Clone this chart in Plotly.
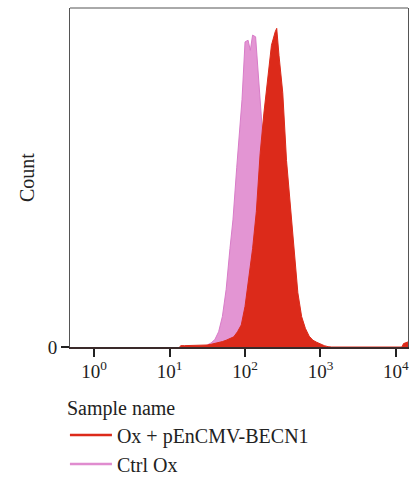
import plotly.graph_objects as go

# Fluorescence bins (log10 of intensity)
red_log = [1.13, 1.15, 1.20, 1.25, 1.30, 1.35, 1.40, 1.45, 1.50, 1.55, 1.60, 1.65, 1.70, 1.75,
           1.80, 1.85, 1.90, 1.95, 2.00, 2.05, 2.10, 2.15, 2.20, 2.25, 2.30, 2.35, 2.40, 2.42,
           2.45, 2.50, 2.55, 2.60, 2.65, 2.70, 2.75, 2.80, 2.85, 2.90, 2.95, 3.00, 3.05, 3.10,
           3.15, 4.08, 4.10, 4.16]
red_count = [0.0, 0.4, 0.4, 0.4, 0.4, 0.4, 0.5, 0.5, 0.6, 0.8, 1.0, 1.3, 1.6, 2.0,
             2.4, 3.0, 4.5, 6.5, 12.0, 20.0, 29.0, 40.0, 57.0, 69.0, 79.0, 89.0, 93.0, 94.0,
             86.0, 75.0, 55.0, 42.0, 28.0, 16.0, 9.0, 5.5, 3.2, 2.0, 1.4, 0.8, 0.4, 0.1,
             0.0, 0.0, 1.0, 1.5]

pink_log = [1.45, 1.50, 1.55, 1.60, 1.65, 1.70, 1.75, 1.80, 1.84, 1.89, 1.96, 2.00, 2.04,
            2.07, 2.10, 2.14, 2.17, 2.21, 2.25, 2.30, 2.35, 2.40, 2.45, 2.50, 2.55, 2.60, 2.65, 2.70]
pink_count = [0.0, 0.6, 1.2, 2.2, 4.5, 9.0, 17.0, 29.0, 37.5, 53.0, 73.0, 90.0, 90.5,
              87.5, 92.0, 91.5, 82.0, 72.0, 57.0, 42.0, 30.0, 20.0, 12.0, 7.0, 4.0, 2.0, 1.0, 0.0]

tick_vals = [1, 10, 100, 1000, 10000]
tick_text = ["10<sup>0</sup>", "10<sup>1</sup>", "10<sup>2</sup>", "10<sup>3</sup>", "10<sup>4</sup>"]

names = ["Ox + pEnCMV-BECN1", "Ctrl Ox"]
RED = "#DC2A1A"
PINK_FILL = "#E395D3"
PINK_LINE = "#D87CC8"
LEG_PINK = "#E08CCF"

FONT = "Liberation Serif"

fig = go.Figure()
fig.add_trace(go.Scatter(x=[10 ** v for v in pink_log], y=pink_count, mode="lines",
                         line=dict(color=PINK_LINE, width=1), fill="tozeroy",
                         fillcolor=PINK_FILL, showlegend=False, hoverinfo="skip"))
fig.add_trace(go.Scatter(x=[10 ** v for v in red_log], y=red_count, mode="lines",
                         line=dict(color=RED, width=1), fill="tozeroy",
                         fillcolor=RED, showlegend=False, hoverinfo="skip"))
fig.add_trace(go.Scatter(x=[None], y=[None], mode="lines", name=names[0],
                         line=dict(color=RED, width=2.5), legendrank=1))
fig.add_trace(go.Scatter(x=[None], y=[None], mode="lines", name=names[1],
                         line=dict(color=LEG_PINK, width=2.5), legendrank=2))

fig.update_layout(
    width=409, height=481,
    margin=dict(l=70, r=1, t=8, b=134, autoexpand=False),
    paper_bgcolor="white", plot_bgcolor="white",
    font=dict(family=FONT, size=20, color="#222"),
    xaxis=dict(type="log", range=[-0.32, 4.16], tickvals=tick_vals, ticktext=tick_text,
               ticks="outside", ticklen=8, tickwidth=2, tickcolor="#222",
               ticklabeloverflow="allow", ticklabelstandoff=-2,
               showline=True, linewidth=2, linecolor="#3a2a2a",
               showgrid=False, zeroline=False, tickfont=dict(size=19)),
    yaxis=dict(range=[0, 100], tickvals=[0], ticktext=["0"], ticks="outside",
               ticklen=8, tickwidth=2, tickcolor="#222", tickfont=dict(size=19),
               showline=True, linewidth=1, linecolor="#555", mirror=True,
               showgrid=False, zeroline=False,
               title=dict(text="Count", standoff=7, font=dict(size=20))),
    legend=dict(x=-0.015, y=-0.125, xanchor="left", yanchor="top",
                title=dict(text="Sample name", side="top", font=dict(size=20)),
                font=dict(size=20), itemwidth=42, bgcolor="rgba(0,0,0,0)"),
    shapes=[dict(type="line", xref="paper", yref="paper", x0=0, x1=1, y0=1, y1=1,
                 line=dict(color="#555", width=1))],
)

fig.write_html("out.html")
